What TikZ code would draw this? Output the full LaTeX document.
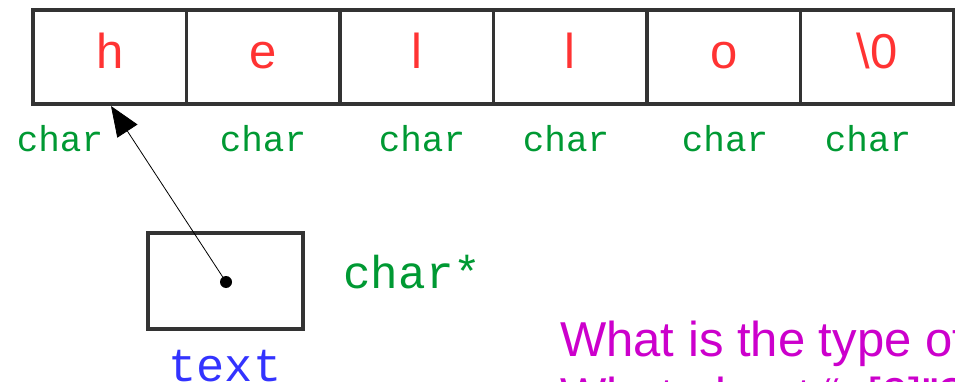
\documentclass[tikz,border=0pt]{standalone}
\usepackage{fontspec}
\setmainfont{Liberation Sans}
\newfontfamily\monofont{Liberation Mono}
\usetikzlibrary{arrows.meta}
\definecolor{cellred}{HTML}{FF3333}
\definecolor{typegreen}{HTML}{009933}
\definecolor{varblue}{HTML}{3333FF}
\definecolor{askmag}{HTML}{CC00CC}
\definecolor{edge}{HTML}{333333}
\tikzset{
  cell/.style={draw=edge, line width=3.4pt, minimum width=153.5pt, minimum height=94pt, inner sep=0pt, outer sep=0pt,
    text=cellred, font=\fontsize{49}{58}\selectfont},
  typelbl/.style={text=typegreen, anchor=base, inner sep=0pt, font=\monofont\fontsize{36}{42}\selectfont},
  bigtype/.style={text=typegreen, anchor=base west, inner sep=0pt, font=\monofont\fontsize{46}{54}\selectfont},
  varlbl/.style={text=varblue, anchor=base, inner sep=0pt, font=\monofont\fontsize{47}{54}\selectfont},
  ask/.style={text=askmag, anchor=base west, inner sep=0pt, font=\fontsize{49}{56}\selectfont},
}
\begin{document}
\begin{tikzpicture}[x=1pt,y=-1pt]
\useasboundingbox (0,0) rectangle (955,382);
\clip (0,0) rectangle (955,382);
% array cells
\node[cell] (c0) at (109.75,57) {\strut h};
\node[cell] (c1) at (263.25,57) {\strut e};
\node[cell] (c2) at (416.75,57) {\strut l};
\node[cell] (c3) at (570.25,57) {\strut l};
\node[cell] (c4) at (723.75,57) {\strut o};
\node[cell] (c5) at (877.25,57) {\strut \textbackslash 0};
% type labels
\node[typelbl] (t0) at (60,152) {char};
\node[typelbl] (t1) at (263,152) {char};
\node[typelbl] (t2) at (422,152) {char};
\node[typelbl] (t3) at (566,152) {char};
\node[typelbl] (t4) at (725,152) {char};
\node[typelbl] (t5) at (868,152) {char};
% pointer box
\node[draw=edge, line width=3.4pt, minimum width=155pt, minimum height=96pt, inner sep=0pt] (ptr) at (225.5,281) {};
\node[circle, fill=black, minimum size=12pt, inner sep=0pt] (dot) at (226,282) {};
\coordinate (tip) at (111,106);
\draw[line width=0.8pt, -{Triangle[length=30pt,width=24pt]}] (dot.center) -- (tip);
\node[bigtype] (pt) at (343,288) {char*};
\node[varlbl] (vn) at (225,381) {text};
% question text
\node[ask] (q1) at (560,356) {What is the type of};
\node[ask] (q2) at (560,412) {What about “a[0]”?};
\end{tikzpicture}
\end{document}
